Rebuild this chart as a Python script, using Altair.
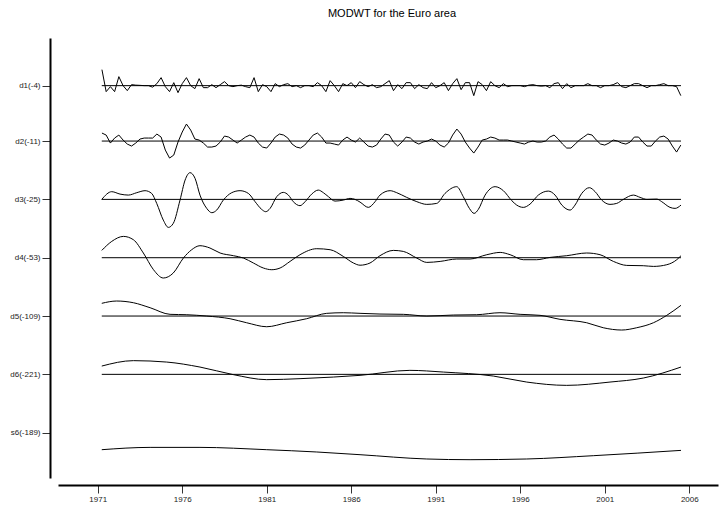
import altair as alt
import pandas as pd

TITLE = "MODWT for the Euro area"
LABELS = ["d1(-4)", "d2(-11)", "d3(-25)", "d4(-53)", "d5(-109)", "d6(-221)", "s6(-189)"]
YEAR_TICKS = [1971, 1976, 1981, 1986, 1991, 1996, 2001, 2006]

# quarterly detail series (start 1971 Q2)
Q_START = 1971.25
D1 = [16, -6, -1, -6, 9, 0, -5, 1, 0.5, 0.3, 0, 0, -1.5, 2, 8, -1, -6, 3, -7, 2,
      8, 0, -3, 7, -2, -2, 1, -2, 1, 4, 0, -1, 0, 0.5, -1, -2, 8, -6, 1, -1,
      -6, 2, -1, 1, 2, -1, 0, -2, 0, 0, -1, 3, 0, -6, 5, 0, -6, 2, 0, 3,
      -2, 4,
      1, -1, 1, -2, -1, 2, 5, -5, 1, -3, 3, 3, -3, 1, -2, -3, 3, -2, 0, 3,
      -5, 2, 7, -4, 3, 3, -10, 4, 1, -5, 4, 0, -2, 2, -1, 0, 0, 0, -1, 0.5,
      1, 0, -0.5, 0, -2, 2, 3, -3, 2, -2, 0, 0, 0, 2, 0, 0, -2, 0, 0, 1,
      3, -1, -2, 0, 2, 2, 0, -2, 0, 0, 1, 2, 0, 0, -1, -10]
D2 = [8, 6, -2, 3, 6, 1, -3, -5, -2, 2, 3, 3, 3, 7, 4, -9, -17, -14, -1, 9,
      17, 11, 2, 1, -2, -6, -6, -5, -1, 5, 4, 1, -2, 1, 4, 6, 4, -2, -6, -7,
      -2, 4, 7, 6, 3, -3, -6, -7, -4, 1, 6, 8, 4, -2, -2, -3, -4, 1, 4, 1,
      -1, 3,
      -1, -5, -6, -4, 2, 7, 6, -1, -5, -1, 4, 3, -1, -3, -1, 0, 2, 0, -4, -6,
      -2, 6, 12, 7, -1, -7, -12, -6, 1, 2, 4, 3, 1, 1, 1, 0, -1, -2, -3, -1,
      0, -1, -1, 0, 4, 6, 2, -3, -7, -7, -3, 1, 4, 7, 6, 1, -3, -4, -2, 1,
      0, -2, -3, -1, 4, 4, -1, -5, -5, 0, 4, 5, 2, -5, -11, -4]

# smoother series: (time, value) at turning points
D3_T = [1971.24, 1971.83, 1972.32, 1972.81, 1973.31, 1973.80, 1974.19, 1974.49, 1974.88, 1975.18,
        1975.47, 1975.87, 1976.17, 1976.46, 1976.76, 1977.05, 1977.45, 1977.75, 1978.04, 1978.43,
        1978.93, 1979.42, 1979.91, 1980.31, 1980.70, 1980.94, 1981.20, 1981.59, 1981.98, 1982.28,
        1982.57, 1982.97, 1983.27, 1983.66, 1984.05, 1984.35, 1984.65, 1985.04, 1985.53, 1985.93,
        1986.22, 1986.52, 1987.01, 1987.41, 1987.70, 1988.30, 1988.69, 1989.28, 1989.88, 1990.47,
        1991.06, 1991.55, 1992.24, 1992.63, 1992.99, 1993.27, 1993.52, 1993.92, 1994.51, 1995.00,
        1995.50, 1995.79, 1996.18, 1996.58, 1997.07, 1997.66, 1998.06, 1998.46, 1998.95, 1999.24,
        1999.64, 2000.09, 2000.43, 2000.82, 2001.31, 2001.71, 2002.10, 2002.69, 2003.09, 2003.49,
        2004.08, 2004.37, 2004.86, 2005.16, 2005.51]
D3_V = [0, 7.7, 5.3, 4.3, 6.7, 8.7, 6, -4, -20.7, -28,
        -24, -0.7, 19.3, 26.7, 21, 4.3, -9, -13.3, -10.7, -0.7,
        6.7, 8.7, 6, -2.3, -10, -12.3, -9, 2.7, 7, 4.3,
        -2.3, -6.3, -2.3, 5.3, 9.3, 6.7, 2.7, -1.7, -0.7, 1,
        0, -2.7, -8, -2.3, 4.3, 8.7, 6.7, 2, -2.3, -5,
        -4, 6, 12.7, 2.7, -9, -14, -10, 4.3, 12.7, 8.7,
        -1.3, -5.7, -8, -4.7, 4.3, 8.3, 4.3, -5.7, -10.7, -5.7,
        6, 11.7, 7.7, -0.7, -5, -4, 0, 4.3, 2, 0,
        0.3, -2.3, -8, -9, -5.7]
D4_T = [1971.24, 1971.83, 1972.52, 1973.11, 1973.70, 1974.30, 1974.88, 1975.47, 1976.07, 1976.56,
        1977.05, 1977.64, 1978.24, 1979.03, 1979.62, 1980.21, 1980.80, 1981.30, 1981.79, 1982.38,
        1982.97, 1983.96, 1984.75, 1985.53, 1986.13, 1986.52, 1987.11, 1987.70, 1988.49, 1989.08,
        1989.87, 1990.47, 1991.26, 1992.24, 1993.03, 1994.02, 1994.81, 1995.40, 1996.18, 1996.97,
        1997.76, 1998.75, 1999.93, 2000.72, 2001.51, 2002.30, 2003.28, 2003.88, 2004.67, 2005.26,
        2005.51]
D4_V = [7.3, 16.3, 21.3, 18, 4.7, -12, -20.3, -15.3, -0.3, 8,
        12, 9.7, 4.7, 2, -0.3, -5.3, -10.3, -12, -10.3, -3.7,
        3, 9, 8, 1.3, -5.3, -7.5, -5.3, 2, 7.3, 6.3,
        -0.3, -4.7, -3.7, -1.3, -1.3, 3, 5.3, 3, -2, -2,
        0.3, 2, 4.7, 3, -3.7, -7.7, -8, -8.7, -7, -2,
        2]
D5_T = [1971.24, 1972.12, 1973.11, 1974.10, 1975.28, 1976.27, 1977.45, 1978.83, 1979.81, 1981.00,
        1982.18, 1983.36, 1984.55, 1985.53, 1986.52, 1987.70, 1989.08, 1990.47, 1992.04, 1993.42,
        1994.80, 1995.99, 1997.17, 1998.35, 1999.93, 2000.91, 2002.00, 2002.89, 2003.88, 2004.67,
        2005.51]
D5_V = [12.7, 15, 13.3, 8.3, 1.7, 1.3, 0, -2.7, -6.7, -10.7,
        -6.7, -2.7, 2.7, 3.3, 2.7, 2, 1.7, 0, 1, 1.3,
        3.3, 1.7, 0.7, -3.3, -6.7, -11.7, -14, -11.7, -6.7, 0.7,
        10.7]
D6_T = [1971.24, 1973.11, 1975.08, 1977.05, 1979.03, 1981.00, 1982.97, 1984.94, 1986.52, 1989.47,
        1991.45, 1994.41, 1996.38, 1998.75, 2001.31, 2003.28, 2005.51]
D6_V = [8.3, 13.7, 12.3, 7.3, -0.3, -5.3, -4.3, -2.7, -1, 4,
        2.3, -1.7, -7.7, -11, -7.7, -3.7, 7.3]
S6_T = [1971.24, 1974.10, 1977.05, 1981.00, 1983.96, 1986.52, 1990.47, 1993.03, 1996.38, 2000.32,
        2005.51]
S6_V = [-17, -14.7, -14.7, -17, -19.3, -22, -26.3, -27, -26.3, -23,
        -17.7]

# layout
BAND = 58.3          # pixels per band (used to scale the read values)
LEVELS = [6.95, 6, 5, 4, 3, 2, 1]
X_START, X_END = 1971.24, 2005.51

rows = []
for k, vals in enumerate([D1, D2]):
    for i, v in enumerate(vals):
        rows.append({"series": LABELS[k], "t": Q_START + 0.25 * i, "y": LEVELS[k] + v / BAND, "smooth": 0})
for k, (ts, vs) in enumerate([(D3_T, D3_V), (D4_T, D4_V), (D5_T, D5_V), (D6_T, D6_V), (S6_T, S6_V)], start=2):
    for t, v in zip(ts, vs):
        rows.append({"series": LABELS[k], "t": t, "y": LEVELS[k] + v / BAND, "smooth": 1})
df = pd.DataFrame(rows)
df_rough = df[df.smooth == 0]
df_smooth = df[df.smooth == 1]
base = pd.DataFrame({"series": LABELS[:6], "lvl": LEVELS[:6], "t0": X_START, "t1": X_END})

FONT = "Liberation Sans"
xscale = alt.Scale(domain=[1968.65, 2007.70], nice=False, zero=False)
yscale = alt.Scale(domain=[0.223, 7.767], nice=False, zero=False)
label_js = "['', " + ", ".join("'%s'" % s for s in LABELS[::-1]) + "][round(datum.value)]"
xaxis = alt.Axis(values=YEAR_TICKS, format="d", title=None, grid=False, offset=7,
                 domainColor="black", domainWidth=2, tickColor="#333", tickSize=8, tickWidth=1,
                 labelFont=FONT, labelFontSize=8, labelColor="#222", labelPadding=2)
yaxis = alt.Axis(values=LEVELS, labelExpr=label_js, title=None, grid=False, offset=8,
                 domainColor="black", domainWidth=2, tickColor="#333", tickSize=8, tickWidth=1,
                 labelFont=FONT, labelFontSize=8, labelColor="#222", labelPadding=2)

X = alt.X("t:Q", scale=xscale, axis=xaxis)
Y = alt.Y("y:Q", scale=yscale, axis=yaxis)

rules = alt.Chart(base).mark_rule(color="black", strokeWidth=1).encode(
    x=alt.X("t0:Q", scale=xscale, axis=xaxis), x2="t1:Q",
    y=alt.Y("lvl:Q", scale=yscale, axis=yaxis))
rough = alt.Chart(df_rough).mark_line(color="black", strokeWidth=1).encode(
    x=X, y=Y, detail="series:N", order="t:Q")
smooth = alt.Chart(df_smooth).mark_line(color="black", strokeWidth=1, interpolate="monotone").encode(
    x=X, y=Y, detail="series:N", order="t:Q")

chart = alt.layer(rules, rough, smooth).properties(
    width=660, height=440,
    background="white",
    title=alt.TitleParams(TITLE, font=FONT, fontSize=11, fontWeight="normal", color="black",
                          anchor="middle", offset=19, dx=4),
    autosize=alt.AutoSizeParams(type="none"),
    padding={"left": 58, "top": 38, "right": 1, "bottom": 30},
).configure_view(strokeWidth=0, stroke="transparent")

chart.save("out.html", embed_options={"renderer": "svg", "actions": False})
